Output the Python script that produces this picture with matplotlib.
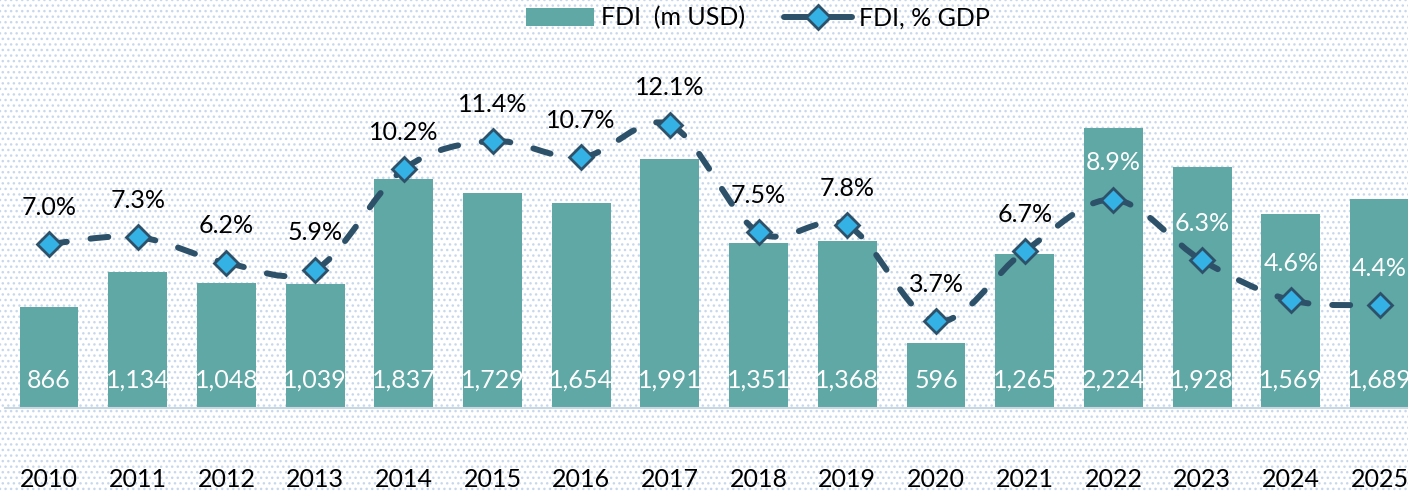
import matplotlib
matplotlib.use('Agg')
import matplotlib.pyplot as plt
from matplotlib.path import Path
from matplotlib.patches import PathPatch, Rectangle, Patch
from matplotlib.lines import Line2D
import numpy as np

years = ['2010', '2011', '2012', '2013', '2014', '2015', '2016', '2017',
         '2018', '2019', '2020', '2021', '2022', '2023', '2024', '2025']
fdi_musd = [866, 1134, 1048, 1039, 1837, 1729, 1654, 1991,
            1351, 1368, 596, 1265, 2224, 1928, 1569, 1689]
fdi_pct = [7.0, 7.3, 6.2, 5.9, 10.2, 11.4, 10.7, 12.1,
           7.5, 7.8, 3.7, 6.7, 8.9, 6.3, 4.6, 4.4]

teal = '#5fa8a5'
navy = '#2d5169'
light_blue = '#35b2e5'

plt.rcParams['font.family'] = ['Lato', 'DejaVu Sans']
plt.rcParams['hatch.linewidth'] = 1.0

W, H = 1408, 493
fig = plt.figure(figsize=(W / 100, H / 100), dpi=100)

# dotted background
bg = Rectangle((0, 0), 1, 1, transform=fig.transFigure, facecolor='white',
               edgecolor='#c8d8ec', hatch='...', linewidth=0, zorder=-10)
fig.patches.append(bg)

step = 88.7
ax = fig.add_axes([(49 - step / 2) / W, (H - 408) / H, 16 * step / W, 363 / H])
ax.set_facecolor('none')
x = np.arange(len(years))
ax.bar(x, fdi_musd, width=0.665, color=teal, zorder=2)
ax.set_xlim(-0.5, len(years) - 0.5)
ax.set_ylim(100, 2854)
ax.set_yticks([])
ax.set_xticks(x, years)
ax.tick_params(axis='x', length=0, pad=43, labelsize=18, labelcolor='black')
for s in ['top', 'left', 'right']:
    ax.spines[s].set_visible(False)
ax.spines['bottom'].set_color('#c9d7e3')
ax.spines['bottom'].set_linewidth(1.5)

for i, v in enumerate(fdi_musd):
    ax.annotate(f'{v:,}', (i, 100), xytext=(0, 20), textcoords='offset points',
                ha='center', va='center', color='white', fontsize=18, zorder=5)

ax2 = ax.twinx()
ax2.set_ylim(0, 15.5)
ax2.set_yticks([])
for s in ax2.spines.values():
    s.set_visible(False)

# smoothed line, one bezier segment per interval (dash restarts at each point)
P = np.column_stack([x, fdi_pct]).astype(float)
n = len(P)
for i in range(n - 1):
    p0 = P[i - 1] if i > 0 else P[i]
    p1 = P[i]
    p2 = P[i + 1]
    p3 = P[i + 2] if i + 2 < n else P[i + 1]
    verts = [p1, p1 + (p2 - p0) / 6, p2 - (p3 - p1) / 6, p2]
    codes = [Path.MOVETO] + [Path.CURVE4] * 3
    seg = PathPatch(Path(verts, codes), facecolor='none', edgecolor=navy, lw=4.3,
                    linestyle=(0, (3, 4)), capstyle='round', zorder=3)
    ax2.add_patch(seg)
ax2.plot(x, fdi_pct, ls='none', marker='D', ms=12, mfc=light_blue, mec=navy,
         mew=2, zorder=4)

fig.canvas.draw()
for i, v in enumerate(fdi_pct):
    lab_y = ax2.transData.transform((i, v))[1] + 37
    bar_top = ax.transData.transform((i, fdi_musd[i]))[1]
    col = 'white' if lab_y < bar_top else 'black'
    ax2.annotate(f'{v:.1f}%', (i, v), xytext=(0, 26.6), textcoords='offset points',
                 ha='center', va='center', color=col, fontsize=18, zorder=6)

handles = [Patch(facecolor=teal, edgecolor='none'),
           Line2D([], [], color=navy, lw=4.3, solid_capstyle='round', marker='D',
                  ms=12, mfc=light_blue, mec=navy, mew=2)]
fig.legend(handles, ['FDI  (m USD)', 'FDI, % GDP'], loc='center',
           bbox_to_anchor=(758 / W, 1 - 18 / H), ncol=2, frameon=False,
           fontsize=18, handlelength=2.7, handletextpad=0.3, columnspacing=1.55)

fig.savefig('out.png', dpi=100)
